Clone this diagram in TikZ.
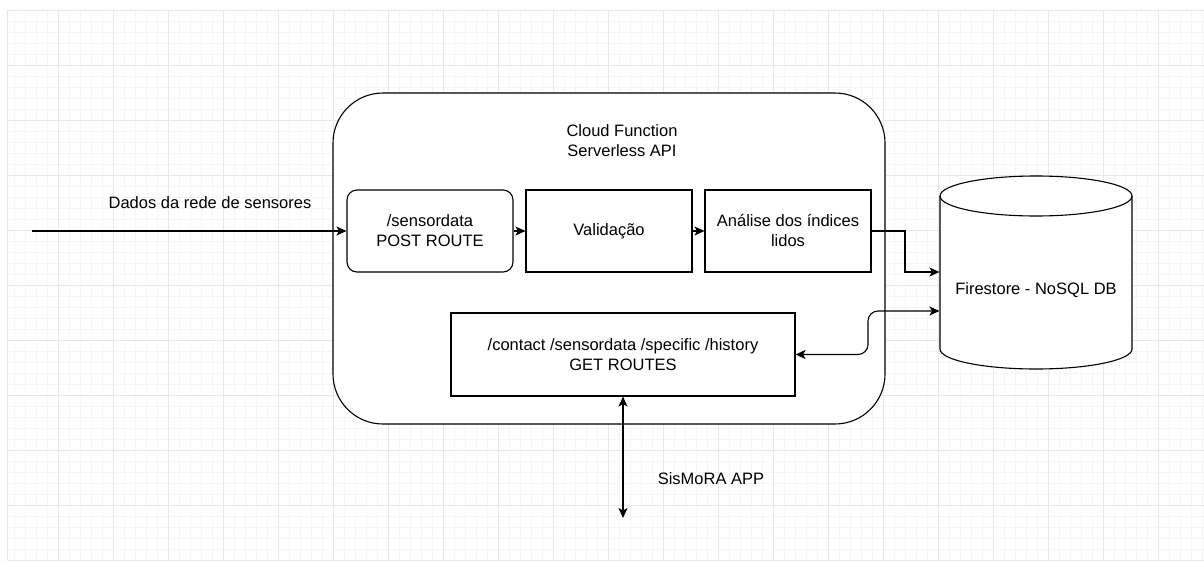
\documentclass[tikz,border=0pt]{standalone}
\usepackage{fontspec}
\setmainfont{Liberation Sans}
\usetikzlibrary{arrows.meta}

\begin{document}
\begin{tikzpicture}[x=1pt, y=-1pt, line width=1.1pt,
		>={Stealth[length=10pt, width=9pt, inset=2.5pt]},
		box/.style={draw, fill=white, minimum width=166pt, minimum height=82pt},
		gridminor/.style={draw=black!4, line width=0.9pt},
		gridmajor/.style={draw=black!9, line width=0.9pt}]
	\tikzstyle{every node}=[align=center, inner sep=1pt, font=\fontsize{16.5}{20}\selectfont]
	\useasboundingbox (0,0) rectangle (1204,562);

	% background grid
	\foreach \x in {14,25,...,1204} \draw[gridminor] (\x,10) -- (\x,561);
	\foreach \y in {21,32,...,561} \draw[gridminor] (7,\y) -- (1204,\y);
	\foreach \x in {7,58,113,...,1204} \draw[gridmajor] (\x,10) -- (\x,561);
	\foreach \y in {10,65,...,561} \draw[gridmajor] (7,\y) -- (1204,\y);

	% cloud function
	\node[draw, fill=white, rounded corners=50pt, minimum width=552pt, minimum height=331pt] (api) at (609,258.5) {};
	\node (title) at (622,141) {Cloud Function\\Serverless API};
	\node[box, rounded corners=10pt] (post) at (430,231) {/sensordata\\POST ROUTE};
	\node[box] (valid) at (609,231) {Validação};
	\node[box] (analise) at (788,231) {Análise dos índices\\lidos};
	\node[draw, fill=white, minimum width=344pt, minimum height=83pt] (get) at (623,354.5) {/contact /sensordata /specific /history\\GET ROUTES};

	% database
	\draw[fill=white] (940,196) -- (940,349) arc[start angle=180, end angle=0, x radius=96, y radius=20]
		-- (1132,196) arc[start angle=0, end angle=-180, x radius=96, y radius=20] -- cycle;
	\draw (940,196) arc[start angle=180, end angle=0, x radius=96, y radius=20];
	\node[minimum width=192pt, minimum height=150pt] (db) at (1036,290) {Firestore - NoSQL DB};

	\coordinate (src) at (32,231);
	\coordinate (app) at (623,518);
	\node (dados) at (210,203) {Dados da rede de sensores};
	\node (sismora) at (711,479) {SisMoRA APP};

	\draw[->] (src) -- (post);
	\draw[->] (post) -- (valid);
	\draw[->] (valid) -- (analise);
	\draw[->] (analise.east) -- (905,231) |- ([yshift=18pt]db.west);
	\draw[<->, rounded corners=10pt] (get.east) -- (868,354.5) -- (868,311) -- ([yshift=-21pt]db.west);
	\draw[<->] (get) -- (app);
\end{tikzpicture}
\end{document}
